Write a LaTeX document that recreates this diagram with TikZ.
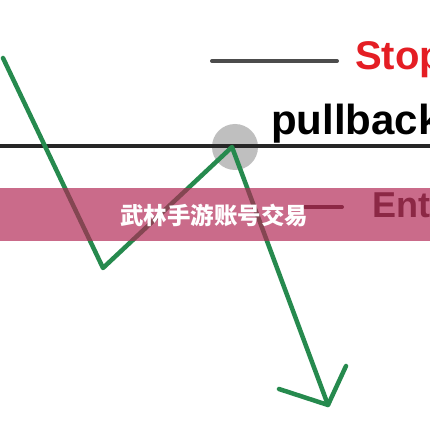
\documentclass[tikz,border=0pt]{standalone}
\usepackage{fontspec}
\setmainfont{Liberation Sans}
\newfontfamily\cjk{Noto Sans CJK SC}
\usepackage{tikz}
\usetikzlibrary{positioning,calc}

\definecolor{trendgreen}{RGB}{38,138,78}
\definecolor{stopred}{RGB}{228,30,36}
\definecolor{bandpink}{RGB}{178,38,84}
\definecolor{entrydark}{RGB}{60,45,40}

\begin{document}
\begin{tikzpicture}[x=1pt,y=-1pt,
    label/.style={font=\bfseries\fontsize{40}{40}\selectfont, inner sep=0pt},
    level/.style={line width=4pt, line cap=round}]
    \useasboundingbox (0,0) rectangle (430,430);
    \clip (0,0) rectangle (430,430);
    \fill[white] (0,0) rectangle (430,430);

    % pullback point
    \fill[black!25] (235,147) circle (23);

    % price path
    \coordinate (start) at (3,58);
    \coordinate (low) at (103,268);
    \coordinate (peak) at (232,147);
    \coordinate (tip) at (328,405);
    \coordinate (armL) at (279,389);
    \coordinate (armR) at (346,366);

    % levels
    \draw[level, black!85, line cap=butt] (-5,146) -- (435,146);
    \draw[level, black!70] (212,61) -- (337,61);
    \draw[level, entrydark] (305,207) -- (342,207);

    \draw[trendgreen, line width=4.5pt, line join=round, line cap=round]
        (start) -- (low) -- (peak) -- (tip);
    \draw[trendgreen, line width=4.5pt, line join=round, line cap=round]
        (armL) -- (tip) -- (armR);

    \node[label, text=stopred, anchor=base west] (stop) at (355,70) {Stop};
    \node[label, anchor=base west,
          font=\bfseries\fontsize{42}{42}\selectfont] (pullback) at (271,135) {pullback};
    \node[label, text=entrydark, anchor=base west,
          font=\bfseries\fontsize{36}{36}\selectfont] (entry) at (372,217) {Entry};

    % title band
    \fill[bandpink, opacity=0.68] (0,188) rectangle (430,241);
    \node[text=white, font=\cjk\bfseries\fontsize{23.5}{23.5}\selectfont] (title) at (214,215) {武林手游账号交易};
\end{tikzpicture}
\end{document}
